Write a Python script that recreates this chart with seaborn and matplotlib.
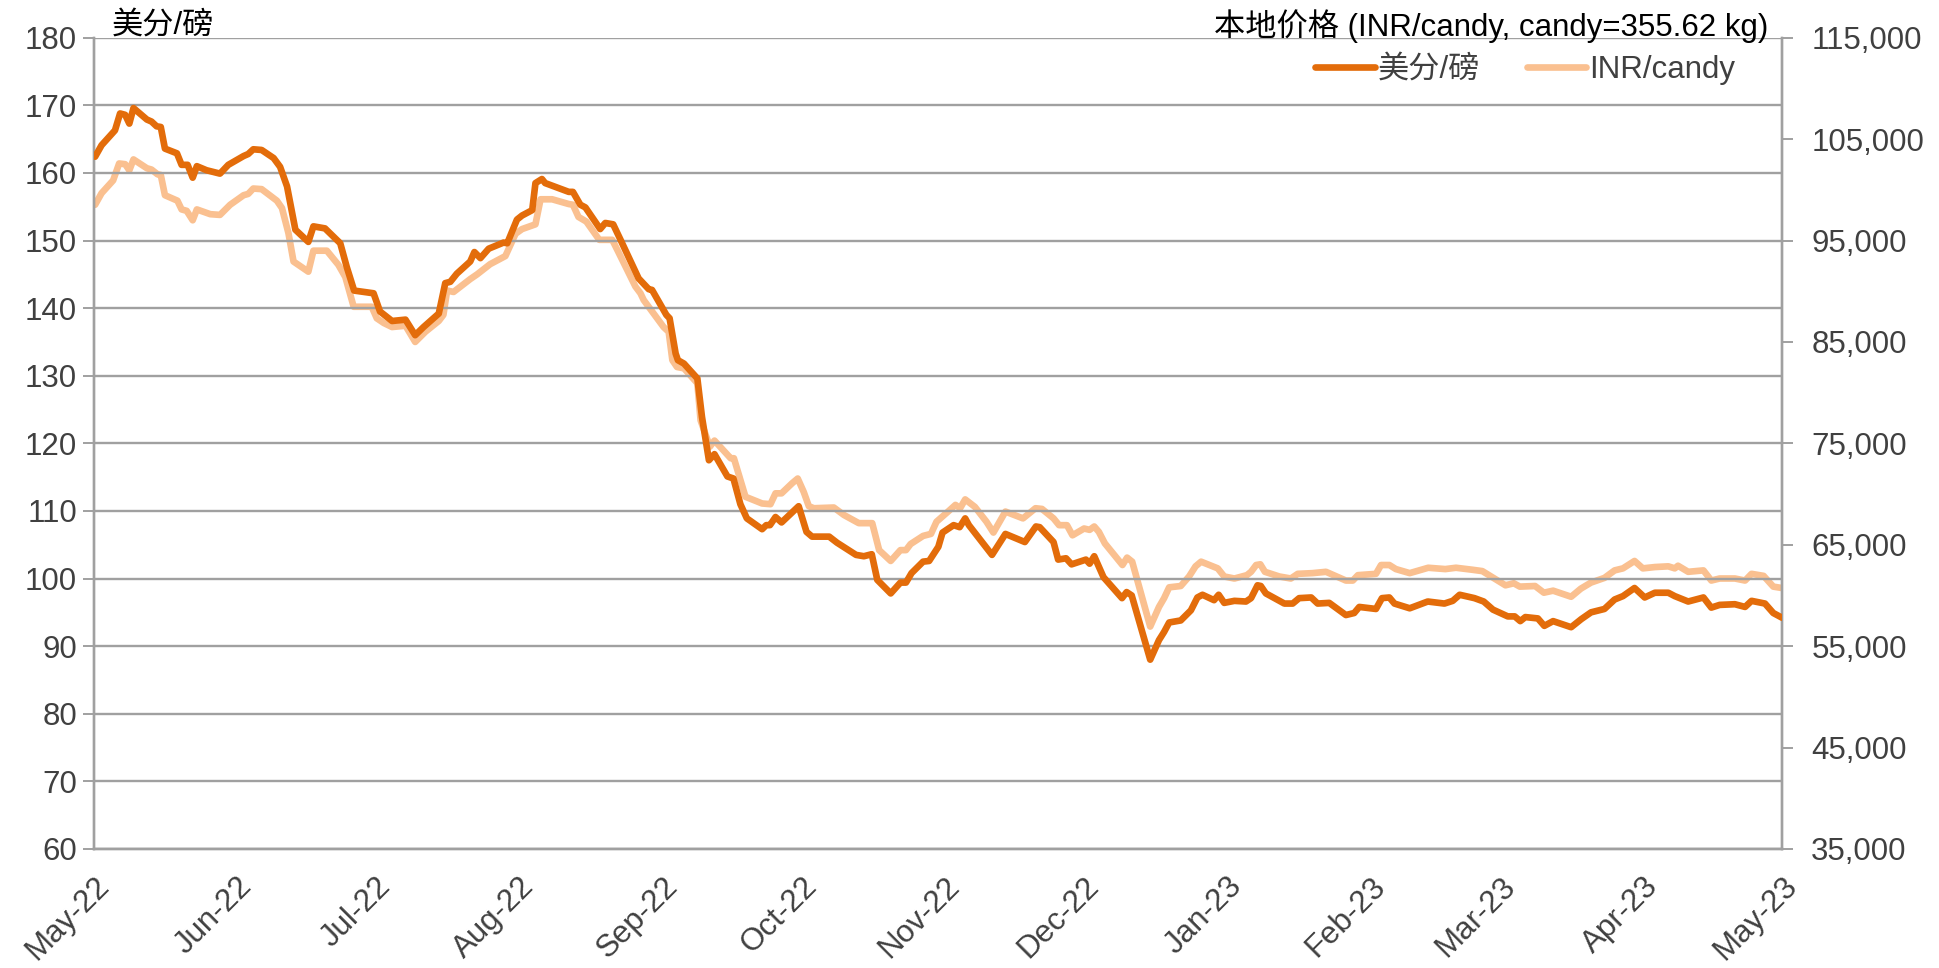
import numpy as np
import pandas as pd
import matplotlib
matplotlib.use("Agg")
import matplotlib.pyplot as plt
import matplotlib.dates as mdates
from matplotlib.ticker import FuncFormatter
import seaborn as sns

# ---------------- data ----------------
start_date = "2022-05-01"

usc_days = [0.3, 1.7, 4.6, 5.7, 6.8, 7.7, 8.6, 11.5, 12.5, 13.6, 14.5, 15.4, 18.0, 19.0, 20.3,
            21.4, 22.3, 24.4, 27.3, 29.1, 32.4, 33.4, 34.5, 36.3, 38.9, 40.3, 41.8, 43.6, 46.4,
            47.5, 50.0, 53.3, 54.7, 56.3, 60.5, 61.9, 63.4, 64.5, 67.4, 69.5, 71.3, 74.6, 76.0,
            77.1, 78.5, 81.4, 82.3, 83.6, 85.4, 88.6, 89.4, 91.5, 92.6, 94.8, 95.5, 96.9, 97.6,
            102.7, 103.6, 105.2, 106.3, 109.5, 110.6, 112.3, 113.9, 117.8, 120.0, 120.7, 123.8,
            124.5, 125.8, 126.3, 127.6, 130.5, 131.5, 133.0, 134.2, 137.0, 138.3, 139.8, 141.2,
            144.5, 145.4, 146.2, 147.4, 148.7, 152.4, 154.1, 155.3, 159.0, 160.7, 164.8, 166.5,
            168.2, 169.4, 172.3, 174.4, 175.6, 176.8, 179.3, 180.6, 182.6, 183.5, 185.9, 187.2,
            188.4, 189.2, 194.2, 197.1, 201.3, 203.7, 204.5, 207.5, 208.5, 210.2, 211.4, 214.5,
            215.3, 216.3, 218.3, 222.3, 223.3, 224.4, 228.4, 230.3, 231.4, 232.5, 235.0, 237.2,
            238.6, 239.7, 242.2, 243.2, 244.4, 246.6, 249.1, 250.2, 251.6, 252.3, 253.4, 257.4,
            259.2, 260.6, 263.2, 264.6, 267.1, 270.7, 272.5, 273.6, 277.2, 278.5, 280.1, 281.2,
            284.5, 288.4, 292.0, 293.8, 295.3, 298.5, 300.5, 302.5, 305.7, 307.2, 308.4, 309.5,
            312.2, 313.6, 315.5, 319.4, 321.6, 323.7, 326.6, 328.8, 330.6, 333.1, 335.3, 337.5,
            340.4, 341.8, 344.7, 348.0, 349.7, 351.5, 354.8, 357.0, 358.4, 361.3, 363.1, 365.0]
usc_values = [162.4, 164.1, 166.3, 168.8, 168.6, 167.3, 169.6, 167.9, 167.6, 166.9, 166.8, 163.6,
              162.9, 161.2, 161.2, 159.3, 161.0, 160.4, 159.9, 161.2, 162.5, 162.8, 163.5, 163.4,
              162.2, 160.9, 158.0, 151.6, 149.8, 152.1, 151.8, 149.6, 146.1, 142.6, 142.2, 139.5,
              138.7, 138.1, 138.3, 136.0, 137.2, 139.2, 143.7, 143.9, 145.1, 146.9, 148.3, 147.4,
              148.8, 149.7, 149.6, 153.1, 153.7, 154.5, 158.5, 159.1, 158.5, 157.2, 157.2, 155.3,
              154.9, 151.7, 152.6, 152.4, 150.1, 144.4, 142.8, 142.7, 139.0, 138.5, 133.3, 132.3,
              131.8, 129.6, 123.9, 117.5, 118.4, 115.1, 114.8, 111.0, 108.9, 107.3, 107.9, 107.9,
              109.1, 108.3, 110.7, 106.9, 106.2, 106.2, 105.3, 103.5, 103.3, 103.6, 99.8, 97.8,
              99.4, 99.4, 100.8, 102.5, 102.6, 104.7, 106.8, 107.9, 107.6, 108.9, 107.9, 103.5,
              106.6, 105.4, 107.7, 107.6, 105.4, 102.8, 103.0, 102.1, 102.8, 102.2, 103.3, 100.2,
              97.1, 98.0, 97.5, 88.0, 90.9, 92.1, 93.5, 93.8, 95.3, 97.2, 97.6, 96.8, 97.6, 96.4,
              96.7, 96.6, 97.1, 99.0, 98.9, 97.8, 96.3, 96.3, 97.1, 97.2, 96.3, 96.4, 94.6, 94.9,
              95.8, 95.5, 97.1, 97.2, 96.3, 95.6, 96.6, 96.3, 96.7, 97.6, 97.1, 96.6, 95.4, 94.4,
              94.4, 93.7, 94.3, 94.1, 93.0, 93.7, 92.8, 94.0, 95.0, 95.5, 96.9, 97.4, 98.6, 97.2,
              97.9, 97.9, 97.4, 96.6, 97.2, 95.7, 96.1, 96.2, 95.8, 96.7, 96.3, 94.9, 94.2]

inr_days = [0.3, 1.7, 4.2, 5.5, 6.8, 7.7, 8.6, 11.5, 12.5, 13.8, 14.5, 15.4, 18.1, 19.0, 20.1,
            21.4, 22.3, 25.2, 27.3, 29.5, 32.4, 33.4, 34.5, 36.3, 39.6, 40.7, 42.1, 43.2, 46.4,
            47.5, 50.4, 52.9, 54.4, 56.2, 60.1, 61.2, 62.7, 64.5, 67.4, 69.5, 71.7, 74.6, 75.6,
            76.4, 77.8, 81.4, 82.9, 85.7, 89.0, 91.2, 92.6, 95.5, 96.6, 99.1, 102.7, 103.6, 104.8,
            106.5, 109.3, 112.1, 113.2, 117.1, 118.2, 118.9, 123.2, 124.3, 125.1, 126.1, 127.6,
            130.5, 131.2, 133.2, 134.2, 137.7, 138.4, 140.9, 144.5, 146.3, 147.4, 148.7, 151.0,
            152.2, 153.5, 154.6, 155.7, 160.0, 162.2, 165.4, 168.3, 169.8, 172.3, 174.4, 175.6,
            176.6, 179.3, 181.0, 182.2, 184.7, 186.3, 187.3, 188.4, 190.5, 193.0, 194.5, 197.1,
            200.9, 203.6, 205.0, 207.5, 208.7, 210.4, 211.6, 214.1, 215.3, 216.3, 217.3, 218.6,
            222.4, 223.4, 224.5, 228.4, 230.3, 231.4, 232.5, 235.0, 236.8, 238.2, 239.4, 243.0,
            244.4, 246.6, 249.3, 250.2, 251.3, 252.2, 253.2, 256.3, 258.8, 260.3, 263.5, 266.4,
            270.7, 272.2, 273.3, 277.2, 278.3, 280.1, 281.5, 284.5, 288.5, 292.2, 294.5, 298.1,
            300.2, 302.8, 305.2, 307.0, 308.3, 311.6, 313.5, 315.5, 319.4, 321.5, 323.7, 326.6,
            328.8, 330.6, 333.1, 334.9, 337.5, 340.4, 341.8, 342.5, 344.7, 348.0, 349.7, 351.5,
            354.8, 357.0, 358.4, 361.0, 363.1, 365.0]
inr_values = [98530, 99670, 100930, 102600, 102530, 101930, 103000, 102130, 102000, 101530, 101470,
              99470, 98930, 98070, 97930, 97000, 98070, 97600, 97530, 98530, 99470, 99600, 100130,
              100070, 98930, 98200, 95730, 92930, 91930, 94000, 94000, 92600, 91400, 88470, 88470,
              87330, 86870, 86470, 86600, 85000, 86000, 87070, 87670, 90070, 89930, 91200, 91670,
              92670, 93470, 95670, 96130, 96600, 99070, 99070, 98600, 98530, 97330, 96870, 95070,
              95070, 94070, 90470, 89800, 89130, 86470, 86000, 83200, 82530, 82400, 80930, 77270,
              74670, 75270, 73530, 73530, 69730, 69070, 69000, 70070, 70070, 71070, 71530, 70200,
              68800, 68600, 68670, 67930, 67130, 67130, 64470, 63400, 64470, 64470, 65070, 65870,
              66070, 67270, 68270, 68930, 68600, 69470, 68730, 67270, 66200, 68270, 67600, 68600,
              68530, 67600, 66930, 66930, 65930, 66600, 66470, 66800, 66270, 65130, 63000, 63730,
              63330, 56930, 58870, 59730, 60800, 60930, 61870, 62870, 63330, 62670, 61870, 61670,
              62000, 62330, 63000, 63070, 62330, 61870, 61670, 62130, 62200, 62330, 61470, 61470,
              62000, 62130, 63000, 63000, 62600, 62200, 62730, 62600, 62730, 62530, 62400, 61670,
              61000, 61200, 60870, 60930, 60270, 60470, 59870, 60670, 61270, 61730, 62470, 62670,
              63400, 62670, 62800, 62870, 62670, 62930, 62330, 62470, 61470, 61670, 61670, 61470,
              62130, 61930, 60870, 60730]

left_title = "美分/磅"
right_title = "本地价格 (INR/candy, candy=355.62 kg)"
series_names = ["美分/磅", "INR/candy"]
left_ticks = list(range(60, 181, 10))
right_ticks = list(range(35000, 115001, 10000))

# ---------------- styling ----------------
DARK = "#E36C0A"
LIGHT = "#FAC090"
GRID = "#A0A0A0"
TXT = "#404040"
FS = 22.5

sns.set_style("white")
plt.rcParams["font.family"] = ["Liberation Sans", "Noto Sans CJK SC", "DejaVu Sans"]
plt.rcParams["axes.unicode_minus"] = False

base = pd.Timestamp(start_date)
df_usc = pd.DataFrame({"date": base + pd.to_timedelta(usc_days, unit="D"), "value": usc_values})
df_inr = pd.DataFrame({"date": base + pd.to_timedelta(inr_days, unit="D"), "value": inr_values})

fig = plt.figure(figsize=(19.4, 9.68), dpi=100)
ax = fig.add_axes([0.0483, 0.123, 0.8703, 0.838])
ax2 = ax.twinx()

sns.lineplot(data=df_inr, x="date", y="value", ax=ax2, color=LIGHT, linewidth=4.8,
             label=series_names[1], legend=False, zorder=2)
ax2.set_zorder(1)
ax.set_zorder(2)
ax.patch.set_visible(False)
sns.lineplot(data=df_usc, x="date", y="value", ax=ax, color=DARK, linewidth=4.8,
             label=series_names[0], legend=False, zorder=3)

ax.set_xlim(pd.Timestamp("2022-05-01"), pd.Timestamp("2023-05-01"))
ax.set_ylim(60, 180)
ax.set_yticks(left_ticks)
ax2.set_ylim(35000, 115000)
ax2.set_yticks(right_ticks)
ax2.yaxis.set_major_formatter(FuncFormatter(lambda v, p: f"{int(v):,}"))

ax.xaxis.set_major_locator(mdates.MonthLocator())
ax.xaxis.set_major_formatter(mdates.DateFormatter("%b-%y"))

for a in (ax, ax2):
    a.set_xlabel("")
    a.set_ylabel("")

ax.grid(axis="y", color=GRID, linewidth=1.7)
ax.grid(axis="x", visible=False)
ax2.grid(False)

for a in (ax, ax2):
    a.spines["top"].set_visible(False)
    for side in ("left", "right", "bottom"):
        a.spines[side].set_color(GRID)
        a.spines[side].set_linewidth(1.7)

ax.tick_params(axis="y", which="major", direction="out", length=8, width=1.4, color=GRID,
               labelsize=FS, labelcolor=TXT, pad=4)
ax.tick_params(axis="x", which="major", direction="out", length=10, width=1.4, color=GRID,
               labelsize=FS, labelcolor=TXT, pad=6)
ax2.tick_params(axis="y", which="major", direction="out", length=8, width=1.4, color=GRID,
                labelsize=FS, labelcolor=TXT, pad=13)

for lbl in ax.get_xticklabels():
    lbl.set_rotation(45)
    lbl.set_ha("right")
    lbl.set_va("top")
    lbl.set_rotation_mode("anchor")

fig.text(112 / 1940, 1 - 26 / 968, left_title, ha="left", va="center", fontsize=FS, color="#000000")
fig.text(1768 / 1940, 1 - 26 / 968, right_title, ha="right", va="center", fontsize=FS, color="#000000")

h1, l1 = ax.get_legend_handles_labels()
h2, l2 = ax2.get_legend_handles_labels()
leg = ax.legend(h1 + h2, l1 + l2, loc="center right", bbox_to_anchor=(1748 / 1940, 1 - 70 / 968),
                bbox_transform=fig.transFigure, ncol=2, frameon=False, fontsize=FS,
                handlelength=1.9, handletextpad=0.1, columnspacing=1.5, borderaxespad=0)
for t in leg.get_texts():
    t.set_color(TXT)
for ln in leg.get_lines():
    ln.set_solid_capstyle("round")

fig.savefig("out.png", dpi=100)
